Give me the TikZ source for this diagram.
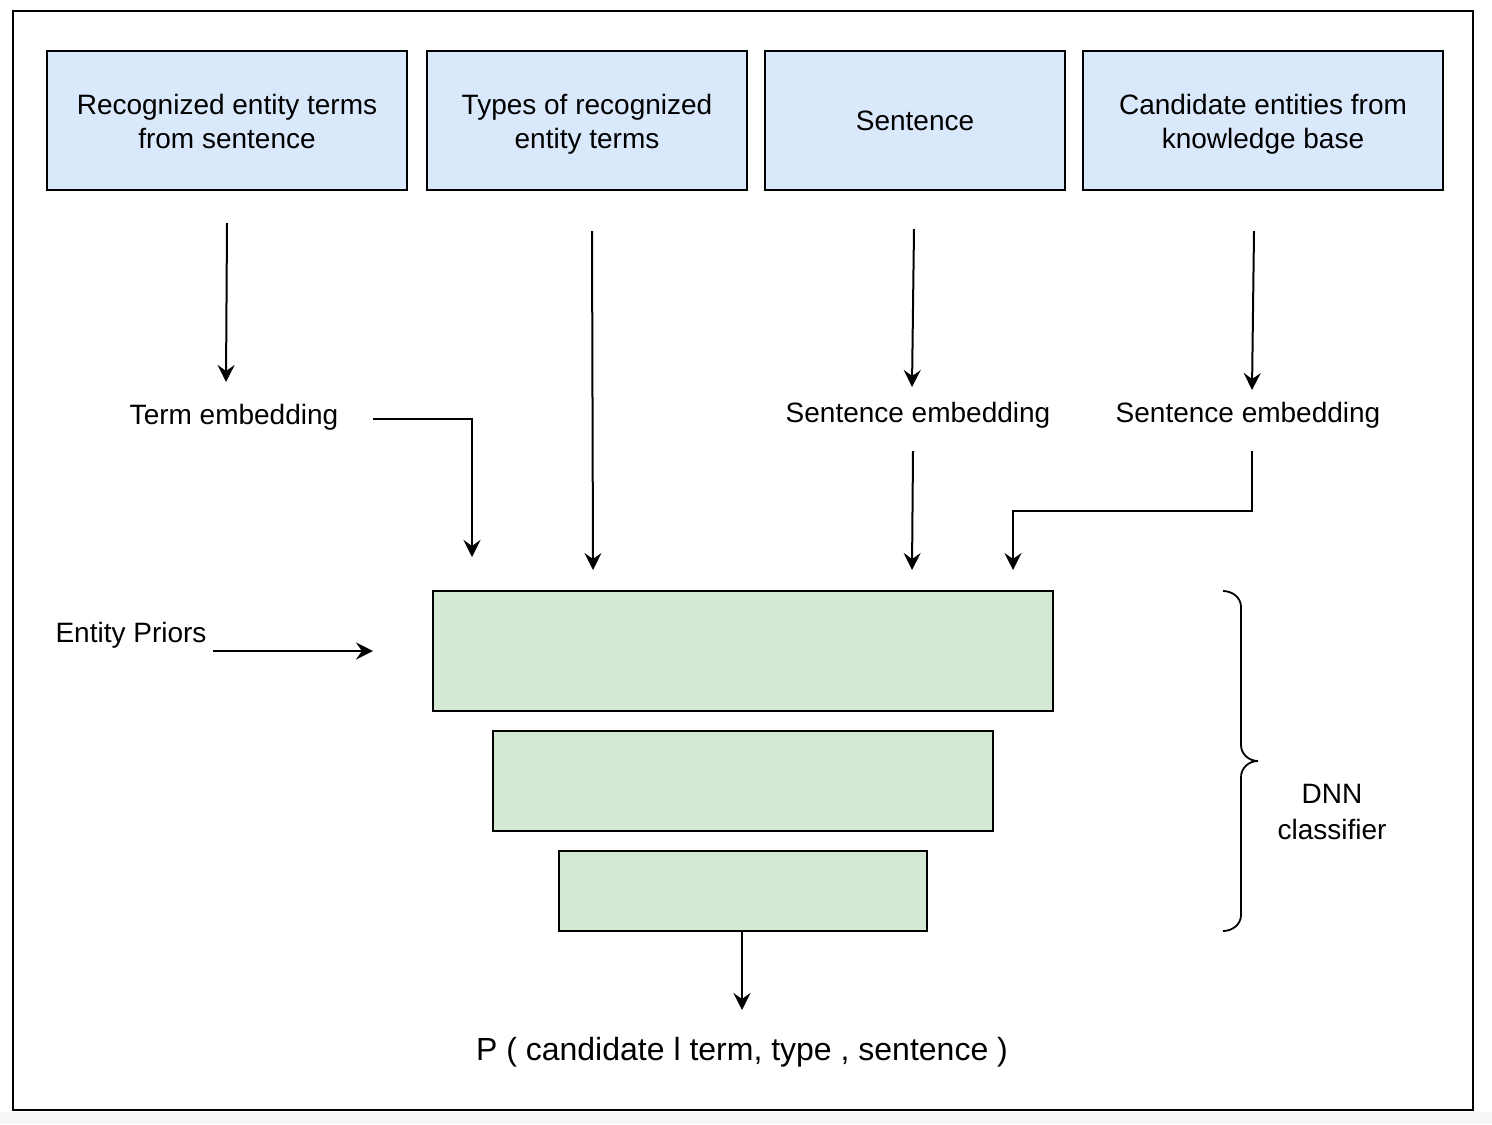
\documentclass[tikz,border=0pt]{standalone}
\usepackage{fontspec}
\setmainfont{Liberation Sans}
\usetikzlibrary{arrows.meta}
\definecolor{bluefill}{HTML}{DAE8FC}
\definecolor{greenfill}{HTML}{D5E8D4}
\definecolor{stripgray}{HTML}{F6F6F6}
\newcommand{\twolines}[2]{\rule{0pt}{13.7pt}#1\\#2\rule[-3.2pt]{0pt}{3.2pt}}
\begin{document}
\begin{tikzpicture}[x=0.5pt,y=-0.5pt,
  inbox/.style={draw=black,line width=1.1pt,fill=bluefill,inner sep=0pt,minimum height=69.5pt,align=center,font=\fontsize{14}{17}\selectfont},
  layerbox/.style={draw=black,line width=1.1pt,fill=greenfill,inner sep=0pt},
  lbl/.style={inner sep=0pt,align=center,font=\fontsize{14}{18}\selectfont},
  arr/.style={draw=black,line width=1pt,-{Stealth[length=8.5pt,width=8.5pt,inset=3pt]}},
  bracestyle/.style={draw=black,line width=0.9pt}]
\useasboundingbox (0,0) rectangle (1492,1124);
\fill[stripgray] (0,1112) rectangle (1492,1124);
\draw[line width=1.1pt] (13,11) rectangle (1473,1110);

% input boxes
\node[inbox,minimum width=180pt] (b1) at (227,120.5) {\twolines{Recognized entity terms}{from sentence}};
\node[inbox,minimum width=160pt] (b2) at (587,120.5) {\twolines{Types of recognized}{entity terms}};
\node[inbox,minimum width=150pt] (b3) at (915,120.5) {Sentence};
\node[inbox,minimum width=180pt] (b4) at (1263,120.5) {\twolines{Candidate entities from}{knowledge base}};

% labels
\node[lbl] (te) at (234,417) {Term embedding};
\node[lbl] (se1) at (918,415) {Sentence embedding};
\node[lbl] (se2) at (1248,415) {Sentence embedding};
\node[lbl] (ep) at (131,635) {Entity Priors};
\node[lbl] (dnn) at (1332,812) {DNN\\classifier};
\node[inner sep=0pt,font=\fontsize{16}{19}\selectfont] (out) at (742,1052) {P ( candidate l term, type , sentence )};

% DNN layers
\node[layerbox,minimum width=310pt,minimum height=60pt] (g1) at (743,651) {};
\node[layerbox,minimum width=250pt,minimum height=50pt] (g2) at (743,781) {};
\node[layerbox,minimum width=184pt,minimum height=40pt] (g3) at (743,891) {};

% connector end points
\coordinate (c1s) at (227,223);  \coordinate (c1e) at (226,382);
\coordinate (c2s) at (592,231);  \coordinate (c2e) at (593,570);
\coordinate (c3s) at (914,229);  \coordinate (c3e) at (912,387);
\coordinate (c4s) at (913,451);  \coordinate (c4e) at (912,570);
\coordinate (c5s) at (1254,231); \coordinate (c5e) at (1252,390);
\coordinate (c6s) at (1252,451); \coordinate (c6e) at (1013,570);
\coordinate (c7s) at (373,419);  \coordinate (c7e) at (472,557);
\coordinate (c8s) at (742,931);  \coordinate (c8e) at (742,1010);
\coordinate (c9s) at (213,651);  \coordinate (c9e) at (373,651);

\draw[arr] (c1s) -- (c1e);
\draw[arr] (c2s) -- (c2e);
\draw[arr] (c3s) -- (c3e);
\draw[arr] (c4s) -- (c4e);
\draw[arr] (c5s) -- (c5e);
\draw[arr] (c6s) -- (1252,511) -- (1013,511) -- (c6e);
\draw[arr] (c7s) -| (c7e);
\draw[arr] (c8s) -- (c8e);
\draw[arr] (c9s) -- (c9e);

% brace
\draw[bracestyle] (1223,591) to[out=0,in=90] (1241,607) -- (1241,745) to[out=-90,in=180] (1258,761)
  to[out=180,in=90] (1241,777) -- (1241,915) to[out=-90,in=0] (1223,931);
\end{tikzpicture}
\end{document}
